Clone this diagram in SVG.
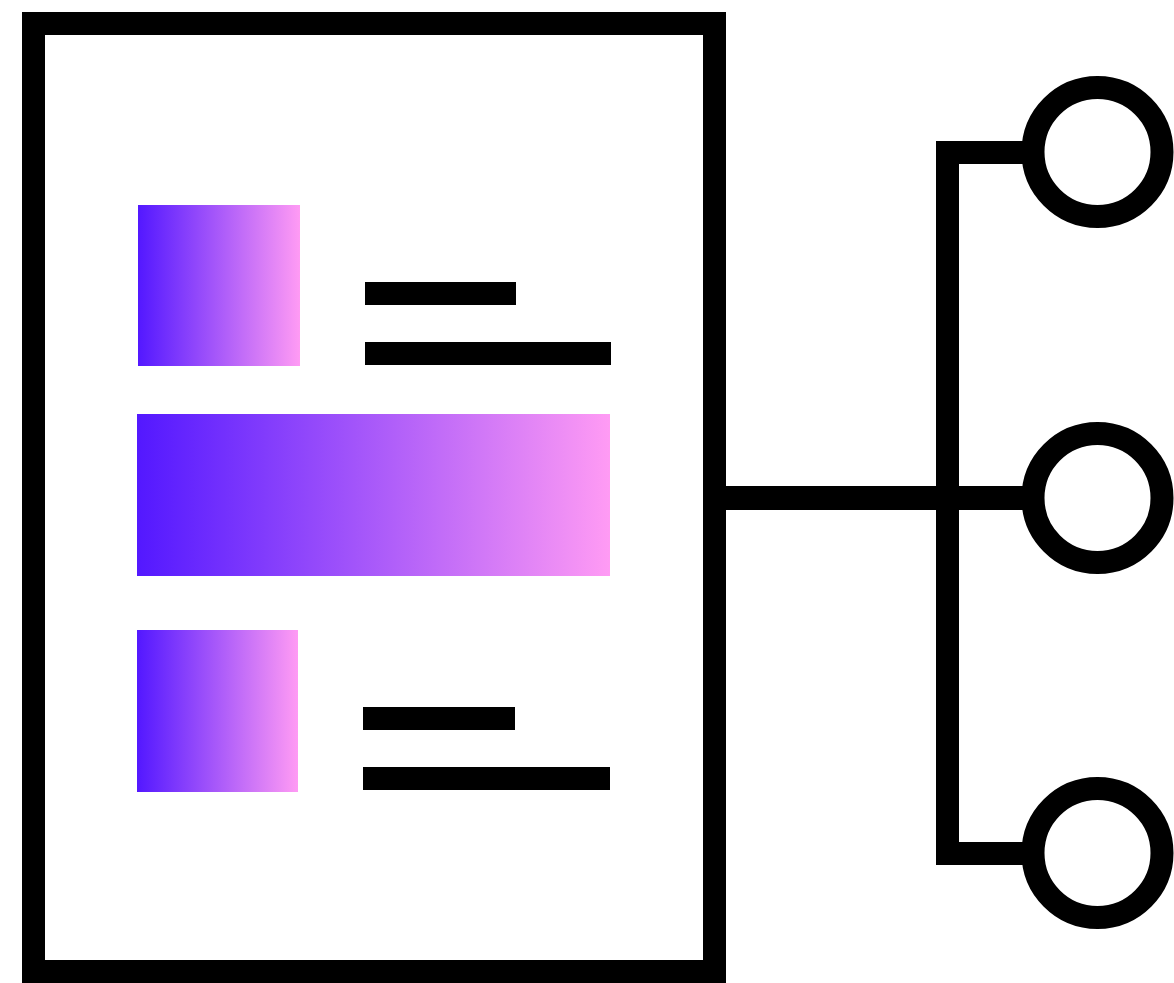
<svg xmlns="http://www.w3.org/2000/svg" width="1174" height="983" viewBox="0 0 1174 983">
<style>
.k{fill:none;stroke:#000;stroke-width:23}
.b{fill:#000}
.c{fill:none;stroke:#000;stroke-width:23}
</style>
<defs>
<linearGradient id="g" x1="0" y1="0" x2="1" y2="0">
<stop offset="0" stop-color="#5318ff"/>
<stop offset="1" stop-color="#ff9bf4"/>
</linearGradient>
</defs>
<rect width="1174" height="983" fill="#fff"/>
<g id="document">
<rect class="k" x="33.5" y="23.5" width="681" height="948"/>
<rect x="138" y="205" width="162" height="161" fill="url(#g)"/>
<rect class="b" x="365" y="282" width="151" height="23"/>
<rect class="b" x="365" y="342" width="246" height="23"/>
<rect x="137" y="414" width="473" height="162" fill="url(#g)"/>
<rect x="137" y="630" width="161" height="162" fill="url(#g)"/>
<rect class="b" x="363" y="707" width="152" height="23"/>
<rect class="b" x="363" y="767" width="247" height="23"/>
</g>
<g id="connectors">
<rect class="b" x="726" y="486" width="300" height="24"/>
<rect class="b" x="936" y="141" width="23" height="724"/>
<rect class="b" x="936" y="141" width="90" height="23"/>
<rect class="b" x="936" y="842" width="90" height="23"/>
</g>
<g id="node-top"><circle class="c" cx="1097.5" cy="152" r="64.5"/></g>
<g id="node-middle"><circle class="c" cx="1097.5" cy="498" r="64.5"/></g>
<g id="node-bottom"><circle class="c" cx="1097.5" cy="853" r="64.5"/></g>
</svg>
